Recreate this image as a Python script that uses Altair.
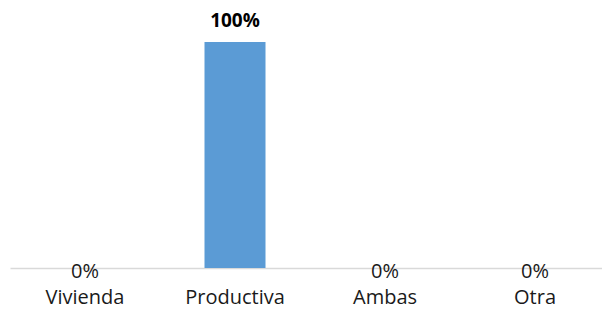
import altair as alt
import pandas as pd

categories = ["Vivienda", "Productiva", "Ambas", "Otra"]
values = [0, 100, 0, 0]
labels = ["0%", "100%", "0%", "0%"]

df = pd.DataFrame({"cat": categories, "val": values, "lab": labels})

FONT = "Open Sans"

x = alt.X("cat:N", sort=categories, title=None,
          scale=alt.Scale(paddingInner=0, paddingOuter=0, range=[0, 600]),
          axis=alt.Axis(labelAngle=0, ticks=False, tickSize=0, domainColor="#d9d9d9",
                        domainWidth=1.3, labelFont=FONT, labelFontSize=20,
                        labelColor="#1a1a1a", labelBaseline="alphabetic",
                        labelPadding=35, grid=False))
y = alt.Y("val:Q", scale=alt.Scale(domain=[0, 100], nice=False), axis=None)

base = alt.Chart(df).encode(x=x, y=y)

bars = base.mark_bar(size=61, color="#5B9BD5")

top_lab = base.transform_filter("datum.val > 0").mark_text(
    font=FONT, fontSize=19, fontWeight="bold", color="#000000",
    baseline="alphabetic", dy=-15).encode(text="lab:N")

zero_lab = base.transform_filter("datum.val == 0").mark_text(
    font=FONT, fontSize=20, color="#1a1a1a",
    baseline="alphabetic", dy=10).encode(text="lab:N")

chart = (bars + top_lab + zero_lab).properties(
    width=592, height=226,
    autosize=alt.AutoSizeParams(type="none"),
    padding={"left": 2, "top": 34, "right": 0, "bottom": 44},
).configure(background="white").configure_view(stroke=None)

chart.save("out.html", embed_options={"renderer": "svg", "actions": False})
